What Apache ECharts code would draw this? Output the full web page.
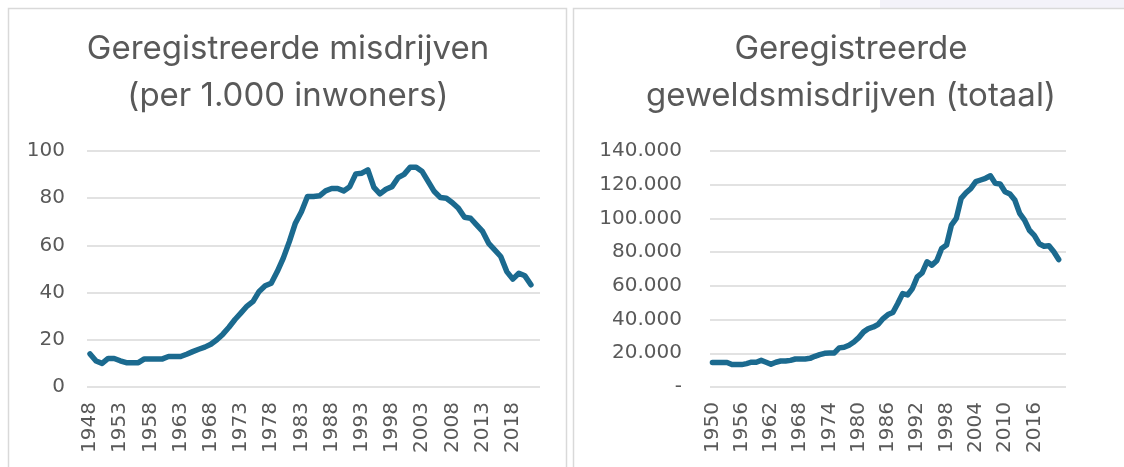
<!DOCTYPE html>
<html>
  <head>
    <meta charset="utf-8" />
    <title>Misdrijven</title>
    <script src="https://cdn.jsdelivr.net/npm/echarts@6/dist/echarts.min.js"></script>
  </head>
  <body style="margin:0;background:#fff;">
    <div id="main" style="width:1124px;height:467px;"></div>
    <script type="text/javascript">
      // left chart: registered crimes per 1.000 inhabitants
      var yearsLeft = [];
      for (let y = 1948; y <= 2022; y++) yearsLeft.push(String(y));
      var perThousand = [
        14, 11, 10, 12.1, 12.1, 11.1, 10.3, 10.3, 10.3, 11.9,
        11.9, 11.9, 11.9, 12.9, 12.9, 12.9, 13.9, 15, 16, 16.9,
        18.1, 20, 22.4, 25.3, 28.6, 31.4, 34.3, 36.3, 40.5, 42.9,
        44, 48.9, 54.6, 61.6, 69.4, 74.3, 80.7, 80.7, 81, 83.1,
        84.1, 84.1, 83.1, 84.9, 90.3, 90.6, 92, 84.6, 81.8, 83.8,
        84.9, 88.7, 90.1, 93.1, 93.1, 91.3, 87, 82.8, 80.3, 80,
        78.1, 75.7, 71.9, 71.5, 68.7, 65.9, 60.9, 58.1, 55.3, 48.9,
        45.7, 48.2, 47.1, 43.3
      ];

      // right chart: registered violent crimes (total)
      var yearsRight = [];
      for (let y = 1950; y <= 2022; y++) yearsRight.push(String(y));
      var violent = [
        14500, 14500, 14500, 14500, 13300, 13300, 13300, 13900, 14700, 14700,
        15800, 14700, 13500, 14700, 15400, 15400, 15800, 16600, 16600, 16600,
        17000, 18200, 19200, 20000, 20200, 20200, 23200, 23600, 24800, 26700,
        29300, 32700, 34700, 35600, 37200, 40600, 43000, 44200, 49500, 55400,
        54600, 58400, 65300, 67700, 74300, 72300, 74900, 82200, 84200, 96000,
        100000, 111900, 115200, 117800, 121800, 122800, 123800, 125300, 120800, 120400,
        115800, 114500, 110900, 103000, 99000, 93000, 90000, 85000, 83500, 83800,
        80200, 75600
      ];

      var lineColor = '#1b6a8f';
      var textColor = '#595959';
      var gridColor = '#d9d9d9';
      var titleFont = 'Inter, "Noto Sans", sans-serif';
      var labelFont = '"DejaVu Sans", sans-serif';

      function fmtNL(v) {
        if (v === 0) return '-';
        return String(v).replace(/\B(?=(\d{3})+(?!\d))/g, '.');
      }

      var myChart = echarts.init(document.getElementById('main'));

      var xLabel = {
        rotate: 90,
        color: textColor,
        fontSize: 20,
        fontFamily: labelFont,
        margin: 15
      };
      var yLabel = {
        color: textColor,
        fontSize: 20,
        fontFamily: labelFont
      };
      var titleStyle = {
        color: textColor, fontSize: 33, fontWeight: 'normal',
        fontFamily: titleFont, lineHeight: 47
      };

      var option = {
        backgroundColor: '#fff',
        animation: false,
        graphic: [
          { type: 'rect', z: -10, shape: { x: 880, y: 0, width: 244, height: 8 },
            style: { fill: '#f3f2f9' } },
          { type: 'rect', z: -10, shape: { x: 8.5, y: 8.5, width: 558, height: 470 },
            style: { fill: '#fff', stroke: gridColor, lineWidth: 1.5 } },
          { type: 'rect', z: -10, shape: { x: 573.5, y: 8.5, width: 570, height: 470 },
            style: { fill: '#fff', stroke: gridColor, lineWidth: 1.5 } }
        ],
        title: [
          {
            text: 'Geregistreerde misdrijven\n(per 1.000 inwoners)',
            left: 288, top: 26, padding: 0, textAlign: 'center',
            textStyle: titleStyle
          },
          {
            text: 'Geregistreerde\ngeweldsmisdrijven (totaal)',
            left: 851, top: 26, padding: 0, textAlign: 'center',
            textStyle: titleStyle
          }
        ],
        grid: [
          { left: 87, right: 584, top: 151, bottom: 80 },
          { left: 710, right: 58, top: 151, bottom: 80 }
        ],
        xAxis: [
          {
            type: 'category', gridIndex: 0, data: yearsLeft, boundaryGap: true,
            axisLine: { show: false }, axisTick: { show: false },
            axisLabel: Object.assign({ interval: 4 }, xLabel)
          },
          {
            type: 'category', gridIndex: 1, data: yearsRight, boundaryGap: true,
            axisLine: { show: false }, axisTick: { show: false },
            axisLabel: Object.assign({
              interval: function (i) { return i % 6 === 0 && i < 72; }
            }, xLabel)
          }
        ],
        yAxis: [
          {
            type: 'value', gridIndex: 0, min: 0, max: 100, interval: 20,
            axisLine: { show: false }, axisTick: { show: false },
            splitLine: { lineStyle: { color: gridColor, width: 1.5 } },
            axisLabel: Object.assign({ margin: 22 }, yLabel)
          },
          {
            type: 'value', gridIndex: 1, min: 0, max: 140000, interval: 20000,
            axisLine: { show: false }, axisTick: { show: false },
            splitLine: { lineStyle: { color: gridColor, width: 1.5 } },
            axisLabel: Object.assign({ margin: 28, formatter: fmtNL }, yLabel)
          }
        ],
        series: [
          {
            type: 'line', xAxisIndex: 0, yAxisIndex: 0, data: perThousand,
            symbol: 'none', smooth: false,
            lineStyle: { color: lineColor, width: 5.5, cap: 'round', join: 'round' }
          },
          {
            type: 'line', xAxisIndex: 1, yAxisIndex: 1, data: violent,
            symbol: 'none', smooth: false,
            lineStyle: { color: lineColor, width: 5.5, cap: 'round', join: 'round' }
          }
        ]
      };

      myChart.setOption(option);
    </script>
  </body>
</html>
